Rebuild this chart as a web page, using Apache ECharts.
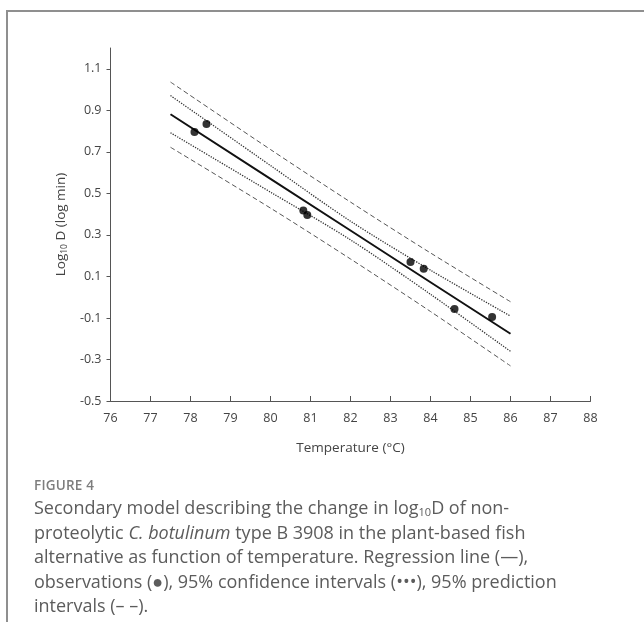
<!DOCTYPE html>
<html>
<head>
<meta charset="utf-8">
<script src="https://cdn.jsdelivr.net/npm/echarts@6/dist/echarts.min.js"></script>
<style>
    html, body { margin: 0; padding: 0; background: #fff; }
    #page { position: relative; width: 644px; height: 622px; overflow: hidden; }
    #frame { position: absolute; left: 6px; top: 10px; width: 700px; height: 700px;
        border-left: 2px solid #8f8f8f; border-top: 2px solid #8f8f8f; }
    #secondaryModel { position: absolute; left: 0; top: 0; width: 644px; height: 622px; }
    #caption { position: absolute; left: 34px; top: 475px; width: 605px;
        font-family: "Open Sans", "Noto Sans", sans-serif; color: #5c5c5c; }
    #caption .fig { font-size: 13.5px; color: #7d7d7d; font-weight: 600; letter-spacing: 0.2px; line-height: 20px; }
    #caption .txt { font-size: 18px; line-height: 24.5px; font-weight: 400; }
    #caption sub { font-size: 11px; vertical-align: -2px; line-height: 0; }
</style>
</head>
<body>
<div id="page">
    <div id="frame"></div>
    <div id="secondaryModel"></div>
    <div id="caption">
        <div class="fig">FIGURE 4</div>
        <div class="txt">Secondary model describing the change in log<sub>10</sub>D of non-<br>proteolytic <i>C. botulinum</i> type B 3908 in the plant-based fish<br>alternative as function of temperature. Regression line (&#8212;),<br>observations (&#9679;), 95% confidence intervals (&#8226;&#8226;&#8226;), 95% prediction<br>intervals (&#8211; &#8211;).</div>
    </div>
</div>
<script>
    // observations
    var obsTemp = [78.1, 78.4, 80.82, 80.92, 83.5, 83.83, 84.6, 85.54]
    var obsLogD = [0.796, 0.834, 0.417, 0.396, 0.170, 0.137, -0.057, -0.095]
    var bandTemp = [77.5, 80, 82, 84, 86]
    var regLine = [0.881, 0.570, 0.321, 0.072, -0.176]
    var ciUpper = [0.971, 0.634, 0.366, 0.130, -0.091]
    var ciLower = [0.792, 0.506, 0.276, 0.014, -0.261]
    var piUpper = [1.036, 0.711, 0.458, 0.213, -0.022]
    var piLower = [0.722, 0.429, 0.184, -0.069, -0.331]
    // axis ticks
    var yTicks = [-0.5, -0.3, -0.1, 0.1, 0.3, 0.5, 0.7, 0.9, 1.1]

    var fontFam = '"Open Sans", "Noto Sans", sans-serif'
    var axisColor = '#555'
    var textColor = '#444'

    function pair(xs, ys) {
        return xs.map(function (x, i) { return [x, ys[i]] })
    }

    function bandSeries(ys, type, color, width) {
        return {
            type: 'line',
            data: pair(bandTemp, ys),
            symbol: 'none',
            smooth: 0.3,
            silent: true,
            lineStyle: { color: color, width: width, type: type },
            z: 2
        }
    }

    var myChart = echarts.init(document.getElementById('secondaryModel'))
    var option = {
        animation: false,
        textStyle: { fontFamily: fontFam },
        grid: {
            left: 110.5,
            right: 53.5,
            top: 48,
            bottom: 221,
            outerBoundsMode: 'none',
            containLabel: false
        },
        xAxis: {
            type: 'value',
            min: 76,
            max: 88,
            interval: 1,
            name: 'Temperature (°C)',
            nameLocation: 'middle',
            nameGap: 40,
            nameTextStyle: { color: textColor, fontSize: 13.5, fontFamily: fontFam },
            axisLine: { show: true, onZero: false, lineStyle: { color: axisColor, width: 1 } },
            axisTick: { show: true, inside: true, length: 5, lineStyle: { color: axisColor } },
            axisLabel: { color: textColor, fontSize: 12.5, margin: 11 },
            splitLine: { show: false }
        },
        yAxis: {
            type: 'value',
            min: -0.5,
            max: 1.2,
            name: '{a|Log}{s|10}{a| D (log min)}',
            nameLocation: 'middle',
            nameRotate: 90,
            nameGap: 31,
            nameTextStyle: {
                rich: {
                    a: { color: textColor, fontSize: 13.5, fontFamily: fontFam },
                    s: { color: textColor, fontSize: 8.5, fontFamily: fontFam, padding: [6, 0, 0, 0] }
                }
            },
            axisLine: { show: true, onZero: false, lineStyle: { color: axisColor, width: 1 } },
            axisTick: { show: true, inside: false, length: 4, customValues: yTicks, lineStyle: { color: axisColor } },
            axisLabel: {
                color: textColor,
                fontSize: 12.5,
                margin: 9,
                customValues: yTicks,
                formatter: function (v) { return v.toFixed(1) }
            },
            splitLine: { show: false }
        },
        series: [
            bandSeries(piUpper, [5, 3], '#555', 1),
            bandSeries(piLower, [5, 3], '#555', 1),
            bandSeries(ciUpper, [1.3, 1.3], '#333', 1.3),
            bandSeries(ciLower, [1.3, 1.3], '#333', 1.3),
            {
                type: 'line',
                data: pair(bandTemp, regLine),
                symbol: 'none',
                silent: true,
                lineStyle: { color: '#111', width: 2 },
                z: 3
            },
            {
                type: 'scatter',
                data: pair(obsTemp, obsLogD),
                symbol: 'circle',
                symbolSize: 8,
                itemStyle: { color: '#000' },
                z: 4
            }
        ]
    }
    myChart.setOption(option)
</script>
</body>
</html>
